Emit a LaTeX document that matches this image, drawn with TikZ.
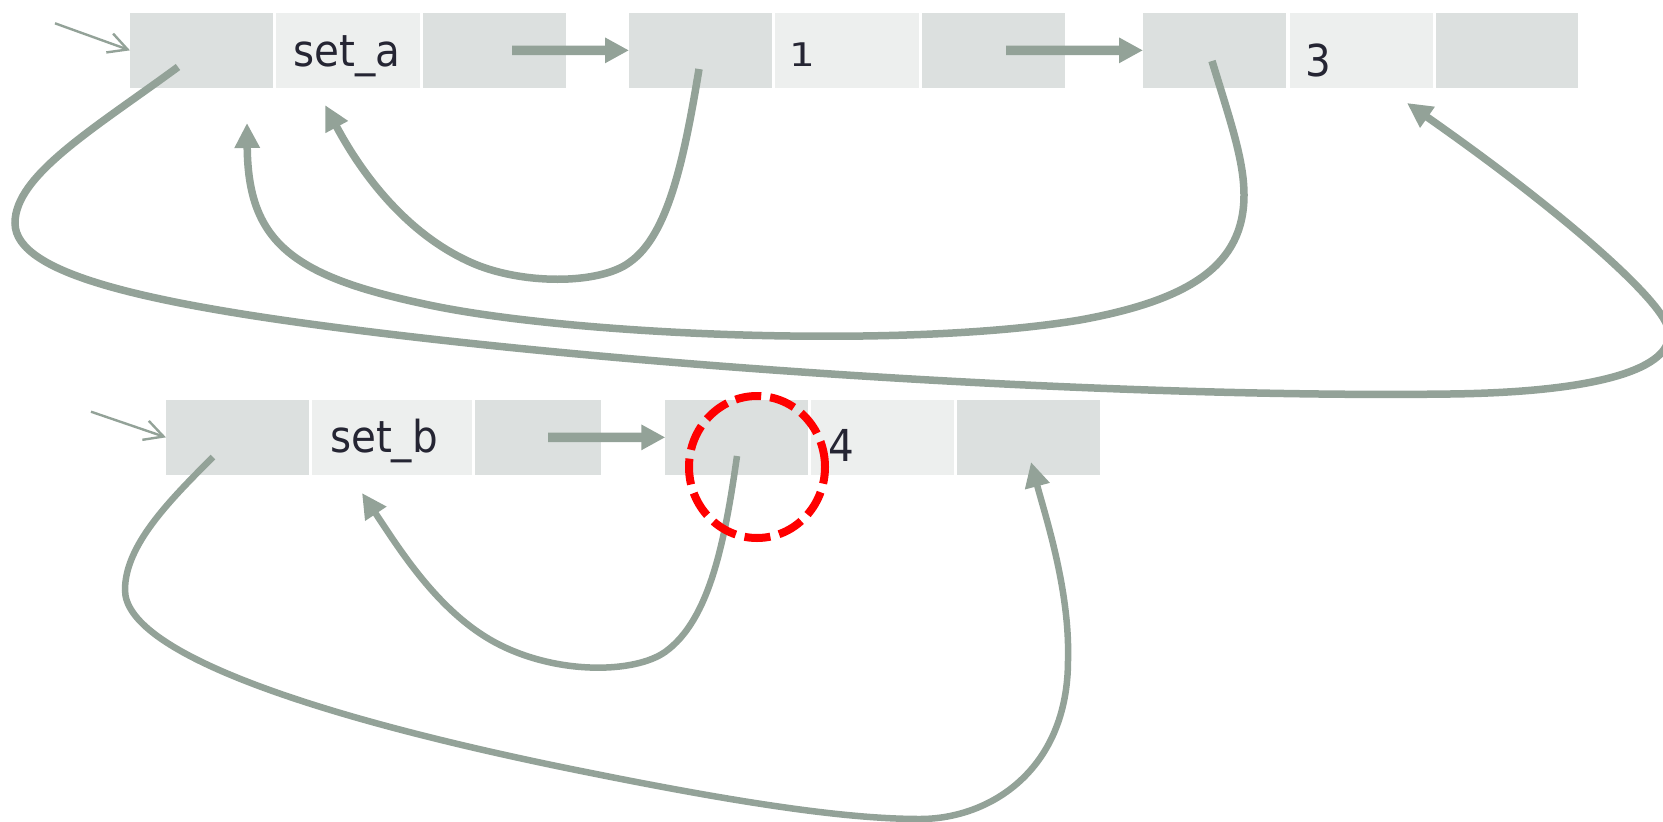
\documentclass[tikz,border=0pt]{standalone}
\usepackage{fontspec}
\setmainfont{DejaVu Sans}[FakeStretch=0.92]
\usepackage{graphicx}
\usetikzlibrary{arrows.meta,shapes.geometric}

\definecolor{cellDark}{RGB}{220,224,223}
\definecolor{cellLight}{RGB}{237,239,238}
\definecolor{linkGray}{RGB}{147,162,152}
\definecolor{ink}{RGB}{37,37,51}
\definecolor{hilite}{RGB}{255,0,0}

\begin{document}
\begin{tikzpicture}[x=1pt,y=-1pt,
  cell/.style={draw=none, inner sep=0pt, outer sep=0pt, minimum height=74.7pt, anchor=north west},
  darkcell/.style={cell, fill=cellDark, minimum width=142.7pt},
  lightcell/.style={cell, fill=cellLight, minimum width=143.7pt},
  celltext/.style={inner sep=0pt, text=ink, font=\fontsize{44}{44}\selectfont},
  ptr/.style={draw=linkGray, line width=7.5pt, -{Triangle[length=25pt,width=24pt]}},
  lowptr/.style={ptr, line width=6.5pt},
  nextptr/.style={draw=linkGray, line width=9.5pt, -{Triangle[length=24pt,width=24pt]}},
  entry/.style={draw=linkGray, line width=2.4pt, -{Straight Barb[length=19pt,width=20pt]}},
]
\useasboundingbox (0,0) rectangle (1663,822);

% ---- list set_a ----
\node[darkcell]  (b1) at (130,13) {};
\node[lightcell] (b2) at (276,13) {};
\node[darkcell]  (b3) at (423,13) {};
\node[darkcell]  (b4) at (629,13) {};
\node[lightcell] (b5) at (775,13) {};
\node[darkcell]  (b6) at (922,13) {};
\node[darkcell]  (b7) at (1143,13) {};
\node[lightcell, minimum width=143pt] (b8) at (1290,13) {};
\node[darkcell, minimum width=142pt]  (b9) at (1436,13) {};

% ---- list set_b ----
\node[darkcell]  (b10) at (166,400) {};
\node[lightcell, minimum width=159.7pt] (b11) at (312,400) {};
\node[darkcell, minimum width=125.7pt]  (b12) at (475,400) {};
\node[darkcell]  (b13) at (665.3,400) {};
\node[lightcell, minimum width=142.4pt] (b14) at (811.3,400) {};
\node[darkcell, minimum width=143pt]  (b15) at (957,400) {};

% ---- cell contents ----
\node[celltext, anchor=base]      (ta) at (347,66.7) {set\_a};
\node[celltext, anchor=base west] (t1) at (789,66.7) {\scalebox{1}[0.74]{1}};
\node[celltext, anchor=base west] (t3) at (1305,76) {3};
\node[celltext, anchor=base]      (tb) at (384,452.3) {set\_b};
\node[celltext, anchor=base west] (t4) at (828,461.7) {4};

% ---- connector ends ----
\coordinate (inA) at (55,23.3);
\coordinate (inB) at (91,411.7);
\coordinate (n1) at (512,50.35);
\coordinate (n2) at (1006,50.35);
\coordinate (n3) at (548,437.35);
\coordinate (sA) at (178,67);
\coordinate (eA) at (1407,103);
\coordinate (sB) at (1212,61);
\coordinate (eB) at (247,123);
\coordinate (sC) at (699,69);
\coordinate (eC) at (325,105);
\coordinate (sD) at (213,457);
\coordinate (eD) at (1031,462);
\coordinate (sE) at (737,456);
\coordinate (eE) at (362,493);

% ---- head pointers ----
\draw[entry] (inA) -- (b1.west);
\draw[entry] (inB) -- (b10.west);

% ---- next pointers ----
\draw[nextptr] (n1) -- (b4.west);
\draw[nextptr] (n2) -- (b7.west);
\draw[nextptr] (n3) -- (b13.west);

% ---- back pointers, set_a ----
\draw[ptr] (sA) .. controls (95,128) and (15,175) .. (15,223)
  .. controls (15,275) and (150,305) .. (380,333)
  .. controls (700,372) and (1150,398) .. (1450,394)
  .. controls (1610,392) and (1678,365) .. (1668,328)
  .. controls (1660,298) and (1560,210) .. (eA);
\draw[ptr] (sB) .. controls (1230,120) and (1244,160) .. (1244,195)
  .. controls (1244,265) and (1190,300) .. (1080,320)
  .. controls (900,350) and (560,335) .. (420,303)
  .. controls (290,275) and (248,240) .. (eB);
\draw[ptr] (sC) .. controls (684,160) and (668,235) .. (630,262)
  .. controls (600,285) and (520,285) .. (470,262)
  .. controls (410,235) and (365,180) .. (eC);

% ---- back pointers, set_b ----
\draw[lowptr] (sD) .. controls (170,500) and (125,545) .. (125,590)
  .. controls (125,650) and (300,715) .. (591,773)
  .. controls (750,805) and (850,819) .. (920,819)
  .. controls (990,819) and (1068,770) .. (1068,660)
  .. controls (1070,590) and (1045,515) .. (eD);
\draw[lowptr] (sE) .. controls (725,540) and (710,620) .. (665,652)
  .. controls (635,673) and (560,675) .. (500,645)
  .. controls (440,615) and (400,550) .. (eE);

% ---- highlighted cell ----
\node[ellipse, draw=hilite, line width=8pt, dash pattern=on 26pt off 9pt,
  inner sep=0pt, minimum width=136pt, minimum height=142pt] (focus) at (757,467) {};
\end{tikzpicture}
\end{document}
